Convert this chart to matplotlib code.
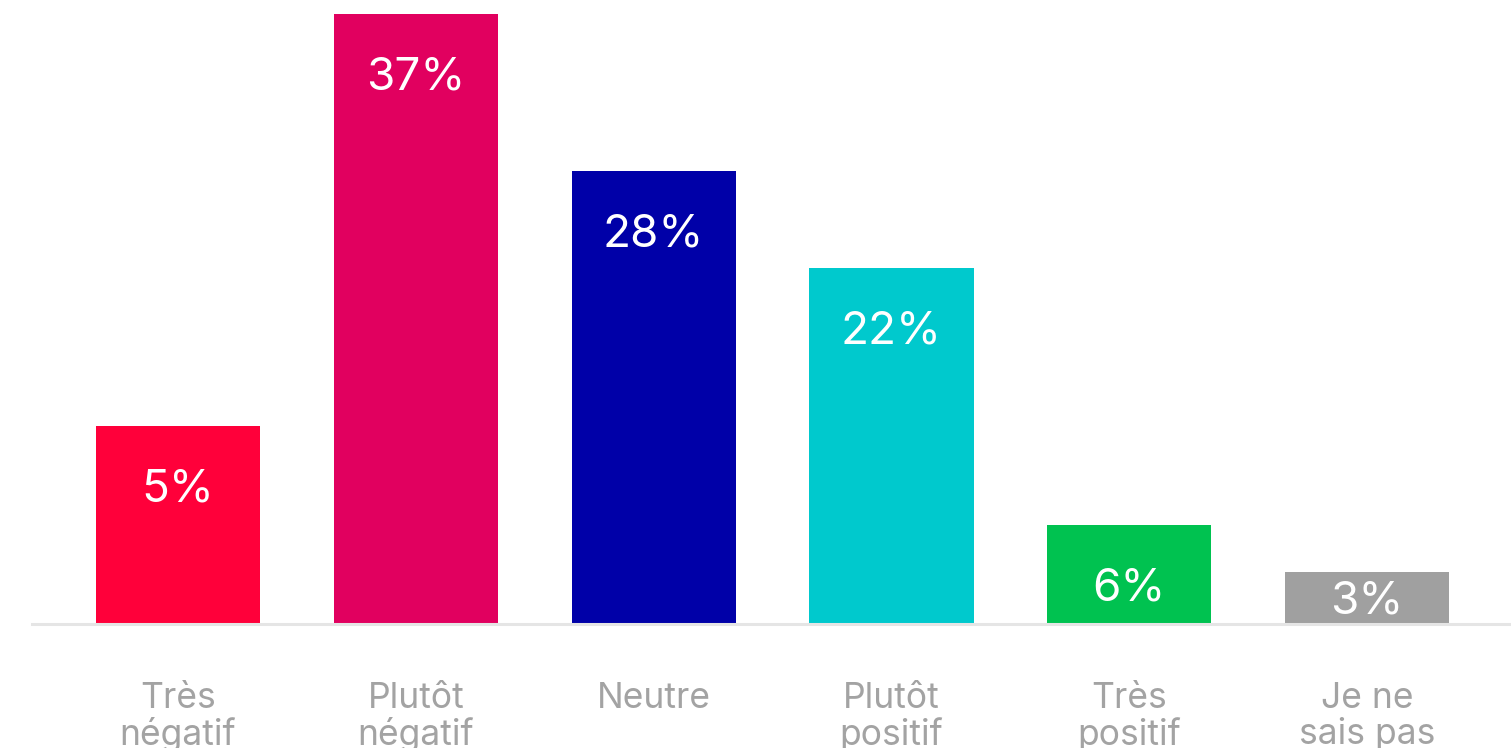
import matplotlib
matplotlib.use("Agg")
import matplotlib.pyplot as plt

categories = ["Très\nnégatif", "Plutôt\nnégatif", "Neutre", "Plutôt\npositif", "Très\npositif", "Je ne\nsais pas"]
# bar heights as drawn in the picture (the labels below are what is printed)
heights = [12.0, 37.0, 27.5, 21.6, 6.0, 3.15]
labels = ["5%", "37%", "28%", "22%", "6%", "3%"]
colors = ["#ff003a", "#e1005f", "#0000a8", "#00c9cd", "#00c250", "#a0a0a0"]

plt.rcParams['font.family'] = ['Inter', 'DejaVu Sans']

W, H = 1511, 748
fig = plt.figure(figsize=(W / 100, H / 100), dpi=100)
base_px = 624
ax = fig.add_axes([32 / W, (H - base_px) / H, 1 - 32 / W, base_px / H])

x = range(len(categories))
bars = ax.bar(x, heights, width=0.69, color=colors, zorder=2)

ax.set_xlim(-0.614, 5.605)
ax.set_ylim(0, base_px / 16.49)

px_per_unit = 16.49
for b, lab in zip(bars, labels):
    h_px = b.get_height() * px_per_unit
    off = min(63.5, h_px - 23)
    ax.annotate(lab, (b.get_x() + b.get_width() / 2, b.get_height()),
                xytext=(0, -off * 0.72), textcoords="offset points",
                ha="center", va="center", color="white", fontsize=33)

for s in ["top", "right", "left"]:
    ax.spines[s].set_visible(False)
ax.spines["bottom"].set_color("#e5e5e5")
ax.spines["bottom"].set_linewidth(2.2)
ax.set_yticks([])
ax.set_xticks(list(x))
ax.set_xticklabels(categories, color="#a3a3a3", fontsize=25.5, linespacing=1.07)
ax.tick_params(axis="x", length=0, pad=42)

fig.savefig("out.png", dpi=100)
